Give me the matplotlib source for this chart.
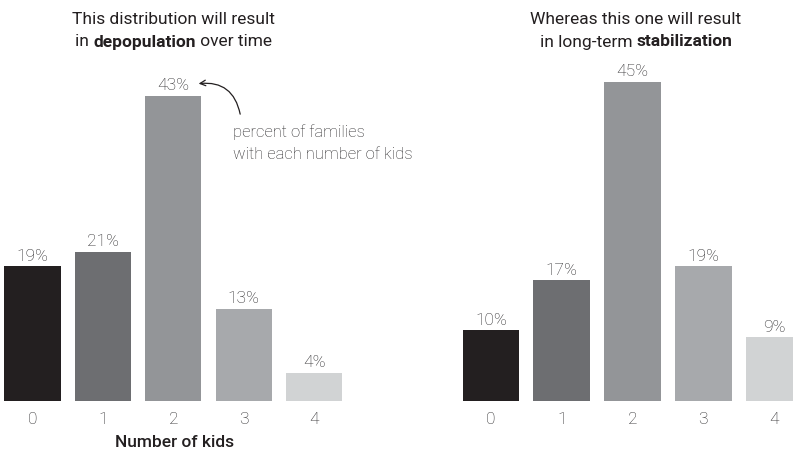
import numpy as np
import matplotlib
matplotlib.use("Agg")
from matplotlib import pyplot as plt

plt.rcParams['font.family'] = ['Roboto', 'DejaVu Sans']

kids = [0, 1, 2, 3, 4]
depop_pct = [19, 21, 43, 13, 4]
stable_pct = [10, 17, 45, 19, 9]
bar_colors = ['#231f20', '#6d6e71', '#939598', '#a7a9ac', '#d1d3d4']

W, H = 793, 452
fig = plt.figure(figsize=(W / 100, H / 100), dpi=100)

px_per_pct = 7.1
base_px = 50  # bar baseline, px from bottom
text_col = '#231f20'
label_col = '#2b2a2c'
fs = 12.5


def make_axes(left_px, right_px, centre0_px, unit_px):
    ax = fig.add_axes([left_px / W, base_px / H, (right_px - left_px) / W, (H - base_px) / H])
    xmin = (left_px - centre0_px) / unit_px
    ax.set_xlim(xmin, xmin + (right_px - left_px) / unit_px)
    ax.set_ylim(0, (H - base_px) / px_per_pct)
    for s in ax.spines.values():
        s.set_visible(False)
    ax.set_yticks([])
    ax.set_xticks(kids)
    ax.set_xticklabels([str(k) for k in kids], fontsize=fs, fontweight='light', color=label_col)
    ax.tick_params(axis='x', length=0, pad=7.5)
    ax.patch.set_alpha(0)
    return ax


def draw_bars(ax, values):
    bars = ax.bar(kids, values, width=0.8, color=bar_colors, clip_on=False)
    for b, v in zip(bars, values):
        ax.annotate(f'{v}%', (b.get_x() + b.get_width() / 2, v), xytext=(0, 2.5),
                    textcoords='offset points', ha='center', va='bottom',
                    fontsize=fs, fontweight='light', color=label_col)
    return bars


def title_line(xc_px, y_px, parts, size=fs):
    # parts: list of (text, weight); centred horizontally at xc_px
    r = fig.canvas.get_renderer()
    texts = []
    for txt, wt in parts:
        t = fig.text(0, 1 - y_px / H, txt, fontsize=size, fontweight=wt, color=text_col,
                     ha='left', va='center')
        texts.append(t)
    widths = [t.get_window_extent(r).width for t in texts]
    x = xc_px - sum(widths) / 2
    for t, w in zip(texts, widths):
        t.set_x(x / W)
        x += w


ax1 = make_axes(0, 350, 32.5, 70.4)
draw_bars(ax1, depop_pct)
ax1.set_xlabel('Number of kids', fontsize=fs, fontweight='medium', color=text_col, labelpad=5.5)

ax2 = make_axes(420, 793, 491, 70.75)
draw_bars(ax2, stable_pct)

title_line(173.5, 19, [('This distribution will result', 'normal')])
title_line(173.5, 42, [('in ', 'normal'), ('depopulation', 'bold'), (' over time', 'normal')])
title_line(636, 19, [('Whereas this one will result', 'normal')])
title_line(636, 42, [('in long-term ', 'normal'), ('stabilization', 'bold')])

# annotation pointing at the 43% label
ax1.annotate('', xy=(2.36, 44.7), xytext=(2.95, 40.4),
             arrowprops=dict(arrowstyle='->', color=text_col, lw=0.9,
                             connectionstyle='arc3,rad=0.45', shrinkA=0, shrinkB=0))
ax1.text(2.85, 39.1, 'percent of families\nwith each number of kids', fontsize=12,
         fontweight='light', color=label_col, ha='left', va='top', linespacing=1.55)

fig.savefig('out.png', dpi=100)
